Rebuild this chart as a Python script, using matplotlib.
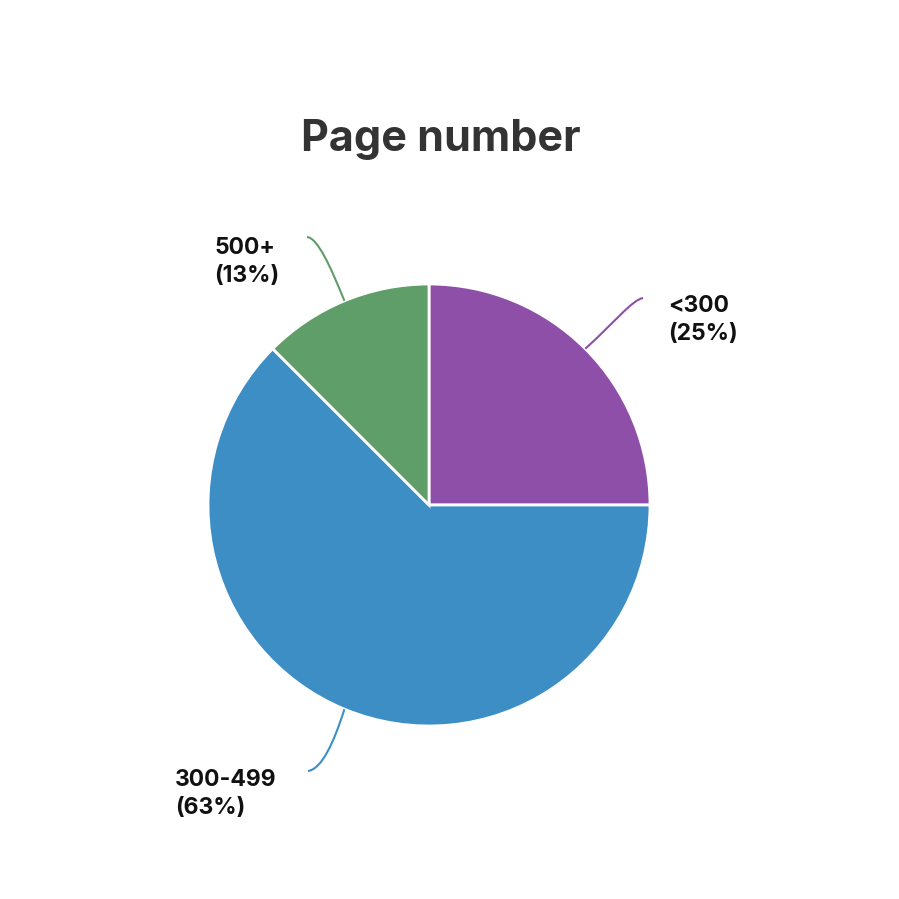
import numpy as np
import matplotlib
matplotlib.use("Agg")
import matplotlib.pyplot as plt
from matplotlib.path import Path
from matplotlib.patches import PathPatch

plt.rcParams['font.family'] = ['Inter', 'DejaVu Sans']

# Data
labels = ["<300", "300-499", "500+"]
counts = [2, 5, 1]
colors = ["#8e4fa8", "#3e8ec6", "#5f9e69"]

# pixel geometry helpers (figure is 899x899, pie center/radius in px)
W = 899
cx, cy, R = 429, 505, 221

def px(x, y):
    return ((x - cx) / R, (cy - y) / R)

fig = plt.figure(figsize=(W / 100, W / 100), dpi=100)
ax = fig.add_axes([0, 0, 1, 1])

wedges, _ = ax.pie(counts, colors=colors, startangle=90, counterclock=False,
                   radius=1, center=(0, 0),
                   wedgeprops=dict(edgecolor='white', linewidth=2))

# pie resets the limits, so set them afterwards
ax.set_xlim(-cx / R, (W - cx) / R)
ax.set_ylim(-(W - cy) / R, cy / R)
ax.set_aspect('equal')
ax.axis('off')

total = sum(counts)
# round half up like the original
pcts = [int(np.floor(100 * c / total + 0.5)) for c in counts]

# leader lines: cubic curves, mostly straight with a curl at the end
ends = {"<300": (643, 298), "300-499": (308, 771), "500+": (307, 237)}
c1s = {"<300": (615, 322), "300-499": (334, 742), "500+": (331, 268)}
c2s = {"<300": (632, 300), "300-499": (322, 769), "500+": (318, 238)}
texts = {"<300": (668, 320), "300-499": (175, 794), "500+": (214, 262)}

for w, lab, col, p in zip(wedges, labels, colors, pcts):
    mid = np.deg2rad((w.theta1 + w.theta2) / 2)
    start = (np.cos(mid), np.sin(mid))
    verts = [start, px(*c1s[lab]), px(*c2s[lab]), px(*ends[lab])]
    path = Path(verts, [Path.MOVETO, Path.CURVE4, Path.CURVE4, Path.CURVE4])
    ax.add_patch(PathPatch(path, fill=False, edgecolor=col, linewidth=1.5))
    ax.text(*px(*texts[lab]), f"{lab}\n({p}%)", ha='left', va='center',
            fontsize=16.5, fontweight='bold', color='#111111', linespacing=1.4)

ax.text(*px(441, 140), "Page number", ha='center', va='center',
        fontsize=31, fontweight='bold', color='#333333')

fig.savefig("out.png", dpi=100, facecolor='white')
